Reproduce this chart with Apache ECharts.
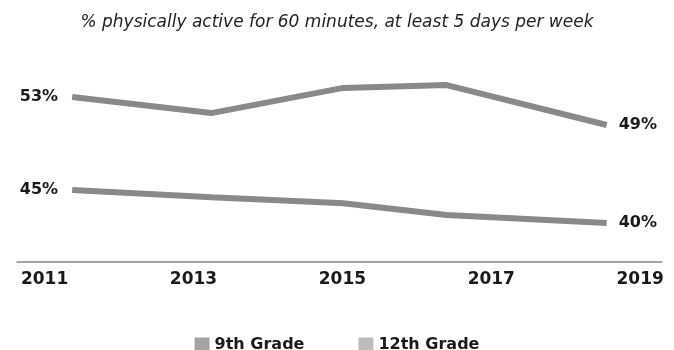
<!DOCTYPE html>
<html>
<head>
  <meta charset="UTF-8">
  <script src="https://cdn.jsdelivr.net/npm/echarts@6/dist/echarts.min.js"></script>
  <style>
    html, body { margin: 0; padding: 0; background: #fff; }
    #chart { width: 674px; height: 350px; }
  </style>
</head>
<body>
  <div id="chart"></div>
  <script>
    // tick labels on the x axis
    var years = [2011, 2013, 2015, 2017, 2019];
    // where the points sit along the year axis
    var xPos = [2011.37, 2013.24, 2015.01, 2016.40, 2018.55];
    var grade9 = [53, 50.7, 54.3, 54.7, 49];
    var grade12 = [45, 43.9, 43.0, 41.2, 40];

    var font = 'DejaVu Sans';

    function pts(vals) {
      return vals.map(function (v, i) {
        var item = { value: [xPos[i], v] };
        if (i === 0) item.label = { show: true, position: 'left', distance: 14 };
        if (i === vals.length - 1) item.label = { show: true, position: 'right', distance: 12 };
        return item;
      });
    }

    var endLabel = {
      show: false,
      fontFamily: font, fontWeight: 'bold', fontSize: 16, color: '#1a1a1a',
      formatter: function (p) { return p.value[1] + '%'; }
    };

    var chart = echarts.init(document.getElementById('chart'));
    chart.setOption({
      backgroundColor: '#fff',
      animation: false,
      title: {
        text: '% physically active for 60 minutes, at least 5 days per week',
        left: 'center',
        top: 9,
        textStyle: { fontFamily: font, fontStyle: 'italic', fontWeight: 'normal', fontSize: 17, color: '#222' }
      },
      legend: {
        top: 332,
        left: 'center',
        icon: 'rect',
        itemWidth: 15,
        itemHeight: 15,
        itemGap: 54,
        textStyle: { fontFamily: font, fontWeight: 'bold', fontSize: 16, color: '#1a1a1a' },
        data: ['9th Grade', '12th Grade']
      },
      grid: { left: 17, right: 12, top: 34, bottom: 88 },
      xAxis: {
        type: 'value',
        min: 2010.629,
        max: 2019.293,
        splitLine: { show: false },
        axisTick: { show: false },
        axisLine: { show: true, lineStyle: { color: '#888', width: 1.5 } },
        axisLabel: {
          customValues: years,
          formatter: function (v) { return String(v); },
          fontFamily: font, fontWeight: 'bold', fontSize: 17, color: '#1a1a1a', margin: 9
        }
      },
      yAxis: [
        { type: 'value', min: 29.43, max: 62, show: false, splitLine: { show: false } },
        { type: 'value', min: 34.09, max: 68.64, show: false, splitLine: { show: false } }
      ],
      series: [
        {
          name: '9th Grade',
          type: 'line',
          yAxisIndex: 0,
          showSymbol: true,
          symbol: 'circle',
          symbolSize: 0.1,
          itemStyle: { color: '#a3a3a3' },
          lineStyle: { color: '#898989', width: 6 },
          label: endLabel,
          data: pts(grade9)
        },
        {
          name: '12th Grade',
          type: 'line',
          yAxisIndex: 1,
          showSymbol: true,
          symbol: 'circle',
          symbolSize: 0.1,
          itemStyle: { color: '#bcbcbc' },
          lineStyle: { color: '#898989', width: 6 },
          label: endLabel,
          data: pts(grade12)
        }
      ]
    });
  </script>
</body>
</html>
